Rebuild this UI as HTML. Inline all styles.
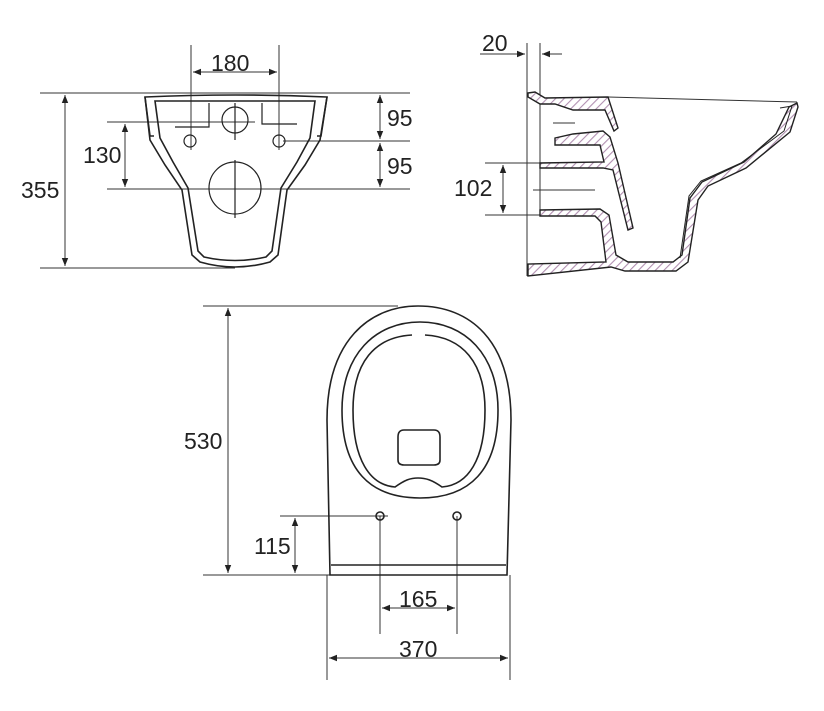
<!DOCTYPE html>
<html><head><meta charset="utf-8"><style>
html,body{margin:0;padding:0;background:#fff;}
svg{display:block;}
text{font-family:"Liberation Sans",Arial,sans-serif;font-size:23px;fill:#222;}
</style></head><body>
<svg width="824" height="711" viewBox="0 0 824 711" xmlns="http://www.w3.org/2000/svg">
<defs>
<pattern id="h" width="6" height="6" patternUnits="userSpaceOnUse" patternTransform="rotate(45)">
<rect width="6" height="6" fill="#fff"/><line x1="0" y1="0" x2="0" y2="6" stroke="#b08fb0" stroke-width="2.2"/>
</pattern>
<marker id="a" viewBox="0 0 10 10" refX="10" refY="5" markerWidth="10" markerHeight="8" orient="auto-start-reverse" markerUnits="userSpaceOnUse">
<path d="M0,1 L10,5 L0,9 Z" fill="#222"/></marker>
</defs>
<g stroke="#333" stroke-width="1" fill="none">
<line x1="40" y1="93" x2="410" y2="93"/>
<line x1="40" y1="268" x2="235" y2="268"/>
<line x1="65" y1="95" x2="65" y2="266" marker-start="url(#a)" marker-end="url(#a)"/>
<line x1="191" y1="45" x2="191" y2="150"/>
<line x1="279" y1="45" x2="279" y2="150"/>
<line x1="193" y1="72" x2="277" y2="72" marker-start="url(#a)" marker-end="url(#a)"/>
<line x1="107" y1="122" x2="255" y2="122"/>
<line x1="107" y1="189" x2="410" y2="189"/>
<line x1="125" y1="124" x2="125" y2="187" marker-start="url(#a)" marker-end="url(#a)"/>
<line x1="283" y1="141" x2="410" y2="141"/>
<line x1="380" y1="95" x2="380" y2="139" marker-start="url(#a)" marker-end="url(#a)"/>
<line x1="380" y1="143" x2="380" y2="187" marker-start="url(#a)" marker-end="url(#a)"/>
</g>
<g stroke="#222" stroke-width="1.6" fill="none">
<path d="M145,97 Q235,93 327,97 L320,140 L305,165 L287,190 L278,255 L270,262 Q235,272 200,262 L192,255 L182,190 L165,165 L150,140 Z"/>
<path d="M155,101 L315,101 L310,138 L297,162 L281,188 L272,251 L266,257 Q235,264 204,257 L198,251 L188,188 L173,162 L160,138 Z"/>
<path d="M145,97 L150,136 L154,136" /><path d="M327,97 L321,136 L317,136"/>
</g>
<g stroke="#222" stroke-width="1.2" fill="none">
<circle cx="235" cy="120" r="13"/><circle cx="235" cy="188" r="26"/>
<circle cx="190" cy="141" r="6"/><circle cx="279" cy="141" r="6"/>
<line x1="235" y1="103" x2="235" y2="140"/><line x1="235" y1="160" x2="235" y2="218"/>
<path d="M209,103 L209,127 L175,127"/><path d="M262,103 L262,124 L297,124"/>
</g>
<text x="21" y="198">355</text><text x="211" y="71">180</text><text x="83" y="163">130</text>
<text x="387" y="126">95</text><text x="387" y="174">95</text>

<g stroke="#333" stroke-width="1" fill="none">
<line x1="527" y1="43" x2="527" y2="276"/>
<line x1="540" y1="43" x2="540" y2="215"/>
<line x1="480" y1="54" x2="525" y2="54" marker-end="url(#a)"/>
<line x1="562" y1="54" x2="542" y2="54" marker-end="url(#a)"/>
<line x1="485" y1="163" x2="540" y2="163"/>
<line x1="485" y1="215" x2="540" y2="215"/>
<line x1="503" y1="165" x2="503" y2="213" marker-start="url(#a)" marker-end="url(#a)"/>
<line x1="553" y1="123" x2="575" y2="123"/>
<line x1="533" y1="190" x2="595" y2="190"/>
<line x1="608" y1="97" x2="797" y2="102"/>
</g>
<g stroke="#222" stroke-width="1.4" fill="url(#h)">
<path d="M528,93 L535,92 L545,98 L608,97 L618,128 L614,131 L605,110 L573,110 L555,104 L540,104 L528,97 Z"/>
<path d="M555,138 L573,134 L603,131 L610,137 L618,163 L633,228 L628,230 L613,170 L603,168 L540,168 L540,163 L604,162 L600,145 L555,145 Z"/>
<path d="M540,210 L600,209 L609,215 L616,255 L628,262 L673,262 L682,255 L690,198 L702,182 L744,162 L776,134 L789,107 L797,103 L798,107 L790,132 L746,168 L708,186 L698,200 L688,262 L676,271 L625,271 L611,267 L528,276 L528,264 L606,262 L601,222 L595,216 L540,216 Z"/>
</g>
<path d="M780,108 L792,106 L784,131 L741,163 L701,181 L689,196 L680,258" stroke="#222" stroke-width="1" fill="none"/>
<text x="482" y="51">20</text><text x="454" y="196">102</text>

<g stroke="#333" stroke-width="1" fill="none">
<line x1="203" y1="306" x2="398" y2="306"/>
<line x1="203" y1="575" x2="330" y2="575"/>
<line x1="228" y1="308" x2="228" y2="573" marker-start="url(#a)" marker-end="url(#a)"/>
<line x1="280" y1="516" x2="388" y2="516"/>
<line x1="295" y1="518" x2="295" y2="573" marker-start="url(#a)" marker-end="url(#a)"/>
<line x1="380" y1="516" x2="380" y2="634"/>
<line x1="457" y1="516" x2="457" y2="634"/>
<line x1="382" y1="608" x2="455" y2="608" marker-start="url(#a)" marker-end="url(#a)"/>
<line x1="327" y1="575" x2="327" y2="680"/>
<line x1="510" y1="575" x2="510" y2="680"/>
<line x1="329" y1="658" x2="508" y2="658" marker-start="url(#a)" marker-end="url(#a)"/>
</g>
<g stroke="#222" stroke-width="1.6" fill="none">
<path d="M330,575 L327,420 C327,340 370,306 418,306 C470,306 511,340 511,420 L507,575 Z"/>
<line x1="331" y1="565" x2="506" y2="565"/>
<path d="M420,322 C465,322 498,355 498,410 C498,470 470,498 420,498 C370,498 342,470 342,410 C342,355 375,322 420,322 Z"/>
<path d="M412,335 C375,337 353,362 353,410 C353,460 370,485 395,487 C405,480 410,478 418,478 C426,478 432,480 442,487 C468,485 485,460 485,410 C485,362 462,337 425,335"/>
<path d="M404,430 L434,430 Q440,430 440,437 L440,460 Q440,465 434,465 L404,465 Q398,465 398,460 L398,437 Q398,430 404,430 Z"/>
<circle cx="380" cy="516" r="4"/><circle cx="457" cy="516" r="4"/>
</g>
<text x="184" y="449">530</text><text x="254" y="554">115</text>
<text x="399" y="607">165</text><text x="399" y="657">370</text>
</svg>
</body></html>
